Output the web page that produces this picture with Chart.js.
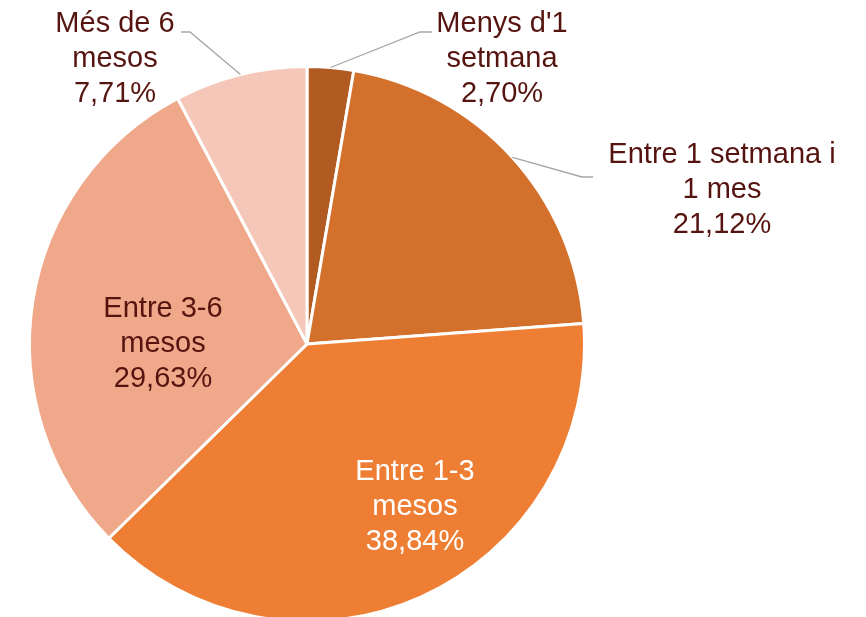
<!DOCTYPE html>
<html>
<head>
<meta charset="utf-8">
<script src="https://cdn.jsdelivr.net/npm/chart.js@4"></script>
<style>
  html, body { margin: 0; padding: 0; background: #fff; overflow: hidden; }
  #wrap { width: 866px; height: 623px; }
</style>
</head>
<body>
<div id="wrap"><canvas id="pieChart"></canvas></div>
<script>
// data, clockwise from 12 o'clock
const categories = ["Menys d'1 setmana", 'Entre 1 setmana i 1 mes', 'Entre 1-3 mesos', 'Entre 3-6 mesos', 'Més de 6 mesos'];
const labelLines = [["Menys d'1", 'setmana'], ['Entre 1 setmana i', '1 mes'], ['Entre 1-3', 'mesos'], ['Entre 3-6', 'mesos'], ['Més de 6', 'mesos']];
const percentages = [2.70, 21.12, 38.84, 29.63, 7.71];

const sliceColors = ['#B15B22', '#D2702C', '#ED7E33', '#F0A88A', '#F5C7B8'];
const textColors = ['#561410', '#561410', '#ffffff', '#561410', '#561410'];

// label placement, in px from the pie centre
const placement = [
  { text: [195, -287], elbow: [113, -312], end: [125, -312] },
  { text: [415, -156], elbow: [275, -167], end: [286, -167] },
  { text: [108, 161] },
  { text: [-144, -2] },
  { text: [-192, -287], elbow: [-117, -312], end: [-126, -312] }
];

const pieLabels = {
  id: 'pieLabels',
  afterDatasetsDraw(chart) {
    const ctx = chart.ctx;
    const arcs = chart.getDatasetMeta(0).data;
    ctx.save();
    ctx.font = '29px "Liberation Sans", Arial, sans-serif';
    ctx.textAlign = 'center';
    ctx.textBaseline = 'alphabetic';
    arcs.forEach((arc, i) => {
      const { x, y, outerRadius: r, startAngle, endAngle } = arc.getProps(['x', 'y', 'outerRadius', 'startAngle', 'endAngle'], true);
      const p = placement[i];
      if (p.elbow) {
        const mid = (startAngle + endAngle) / 2;
        ctx.strokeStyle = '#A6A6A6';
        ctx.lineWidth = 1.3;
        ctx.beginPath();
        ctx.moveTo(x + Math.cos(mid) * r, y + Math.sin(mid) * r);
        ctx.lineTo(x + p.elbow[0], y + p.elbow[1]);
        ctx.lineTo(x + p.end[0], y + p.end[1]);
        ctx.stroke();
      }
      const lines = labelLines[i].concat([percentages[i].toFixed(2).replace('.', ',') + '%']);
      const tx = x + p.text[0];
      const ty = y + p.text[1];
      ctx.fillStyle = textColors[i];
      lines.forEach((line, k) => {
        ctx.fillText(line, tx, ty + (k - (lines.length - 1) / 2) * 35 + 10);
      });
    });
    ctx.restore();
  }
};

new Chart(document.getElementById('pieChart'), {
  type: 'pie',
  data: {
    labels: categories,
    datasets: [{
      data: percentages,
      backgroundColor: sliceColors,
      borderColor: '#ffffff',
      borderWidth: 3
    }]
  },
  options: {
    responsive: true,
    maintainAspectRatio: false,
    animation: false,
    layout: { padding: { left: 28, right: 280, top: 65, bottom: 0 } },
    plugins: {
      legend: { display: false },
      tooltip: { enabled: false }
    }
  },
  plugins: [pieLabels]
});
</script>
</body>
</html>
